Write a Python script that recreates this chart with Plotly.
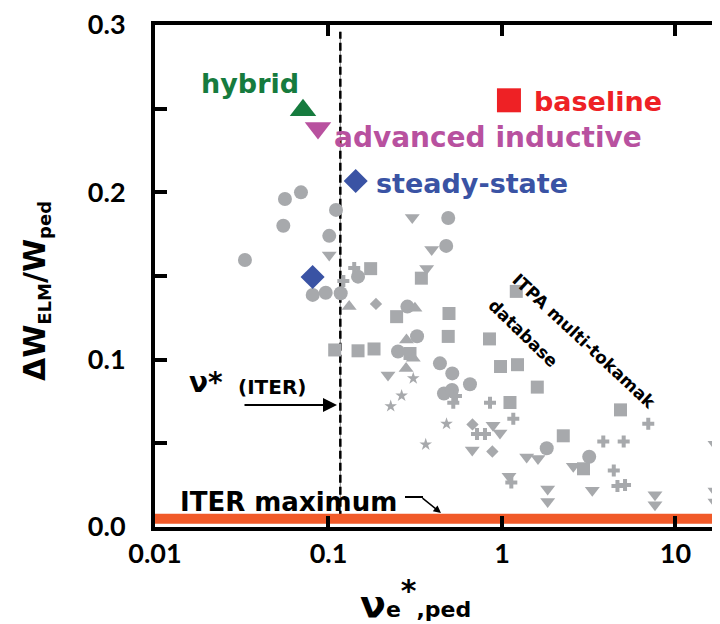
import plotly.graph_objects as go

# ---------------- data ----------------
# ITPA multi-tokamak database (grey), grouped by symbol
db_circle_x = [0.0561, 0.0694, 0.1105, 0.0549, 0.101, 0.033, 0.148, 0.0811, 0.0964, 0.1176,
               0.49, 0.477, 0.285, 0.324, 0.2516, 0.439, 0.517, 0.654, 0.463, 0.515, 1.811, 3.182]
db_circle_y = [0.196, 0.200, 0.1895, 0.180, 0.174, 0.1596, 0.1496, 0.1387, 0.140, 0.1397,
               0.1847, 0.168, 0.1317, 0.114, 0.1049, 0.0978, 0.0918, 0.0853, 0.0798, 0.0819, 0.0471, 0.042]

db_tridown_x = [0.101, 0.304, 0.3935, 0.368, 0.2203, 0.888, 0.974, 0.674, 1.388, 1.613,
                2.577, 1.098, 1.834, 1.834, 3.316, 7.62, 7.62, 16.9, 16.9, 16.9]
db_tridown_y = [0.1626, 0.185, 0.1659, 0.1545, 0.0909, 0.0608, 0.0562, 0.046, 0.0418, 0.0409,
                0.0363, 0.0303, 0.0227, 0.0152, 0.022, 0.0192, 0.0133, 0.0494, 0.0215, 0.0149]

db_triup_x = [0.1316, 0.315, 0.2816, 0.308, 0.280]
db_triup_y = [0.1317, 0.1307, 0.1118, 0.1008, 0.0947]

db_square_x = [0.175, 0.343, 0.247, 0.495, 1.209, 0.1086, 0.148, 0.183, 0.295, 0.490,
               0.847, 0.981, 1.229, 1.598, 1.112, 2.256, 4.82, 2.95]
db_square_y = [0.1544, 0.1487, 0.1257, 0.1276, 0.1408, 0.1058, 0.1053, 0.1064, 0.1037, 0.1139,
               0.1124, 0.0959, 0.097, 0.0836, 0.0744, 0.0545, 0.070, 0.0348]

db_cross_x = [0.1407, 0.1218, 0.524, 0.853, 1.162, 0.718, 0.798, 1.132, 3.837, 5.03,
              4.41, 4.63, 5.12, 6.97, 0.543]
db_cross_y = [0.1548, 0.147, 0.0742, 0.0743, 0.0647, 0.0556, 0.0556, 0.0266, 0.0511, 0.0511,
              0.0337, 0.0245, 0.0251, 0.0617, 0.0783]

db_star_x = [0.308, 0.264, 0.2284, 0.479, 0.3634]
db_star_y = [0.0888, 0.0785, 0.0722, 0.0616, 0.0493]

db_diamond_x = [0.1878, 0.676, 0.88]
db_diamond_y = [0.1333, 0.0613, 0.0451]

# DIII-D scenarios
hybrid_x, hybrid_y = [0.0713], [0.249]
adv_ind_x, adv_ind_y = [0.087], [0.2385]
steady_x, steady_y = [0.1435, 0.081], [0.2068, 0.1494]
baseline_x, baseline_y = [1.097], [0.255]

# reference values
NU_ITER = 0.117          # ITER pedestal collisionality
ITER_MAX = 0.005         # ITER maximum tolerable dW_ELM/W_ped
X_RANGE = [0.01, 18.06]
Y_RANGE = [0.0, 0.3]

y_tickvals = [0.0, 0.05, 0.1, 0.15, 0.2, 0.25, 0.3]
y_ticktext = ["0.0", "", "0.1", "", "0.2", "", "0.3"]
x_tickvals = [0.01, 0.1, 1, 10]
x_ticktext = ["0.01", "0.1", "1", "10"]

# ---------------- styling ----------------
GREY = "#A7A9AC"
GREEN = "#167B3E"
MAGENTA = "#B8519F"
BLUE = "#3A53A4"
RED = "#EE2125"
ORANGE = "#F15A29"
TICKFONT = "Lato"
FONT = "DejaVu Sans"

fig = go.Figure()

# reference lines
fig.add_trace(go.Scatter(x=[NU_ITER, NU_ITER], y=[ITER_MAX, 0.296], mode="lines",
                         line=dict(color="#888888", width=1), hoverinfo="skip", showlegend=False))
fig.add_trace(go.Scatter(x=[NU_ITER, NU_ITER], y=[ITER_MAX, 0.296], mode="lines",
                         line=dict(color="black", width=2.5, dash="8px,4px"),
                         hoverinfo="skip", showlegend=False))
fig.add_trace(go.Scatter(x=X_RANGE, y=[ITER_MAX, ITER_MAX], mode="lines",
                         line=dict(color=ORANGE, width=10), hoverinfo="skip", showlegend=False))

def grey(xs, ys, symbol, size):
    fig.add_trace(go.Scatter(x=xs, y=ys, mode="markers", showlegend=False,
                             marker=dict(symbol=symbol, size=size, color=GREY,
                                         line=dict(width=0))))

grey(db_circle_x, db_circle_y, "circle", 14)
grey(db_square_x, db_square_y, "square", 13)
grey(db_tridown_x, db_tridown_y, "triangle-down", 13)
grey(db_triup_x, db_triup_y, "triangle-up", 13)
grey(db_cross_x, db_cross_y, "cross", 10)
grey(db_star_x, db_star_y, "star", 9.5)
grey(db_diamond_x, db_diamond_y, "diamond", 9.5)

def big(xs, ys, symbol, size, color):
    fig.add_trace(go.Scatter(x=xs, y=ys, mode="markers", showlegend=False,
                             marker=dict(symbol=symbol, size=size, color=color,
                                         line=dict(width=0))))

big(hybrid_x, hybrid_y, "triangle-up", 23, GREEN)
big(adv_ind_x, adv_ind_y, "triangle-down", 23, MAGENTA)
big(steady_x, steady_y, "diamond", 18.5, BLUE)
big(baseline_x, baseline_y, "square", 24, RED)

# invisible trace to activate right-hand tick axis
fig.add_trace(go.Scatter(x=[], y=[], yaxis="y2", showlegend=False))

# page coordinates -> paper coordinates (plot area spans 155..720 x 25..527 on the page)
def px_x(px):
    return (px - 155) / 565.0

def px_y(py):
    return (527 - py) / 502.0

ann = []
def label(text, x, y, size, color="black", xanchor="center", angle=0, family=FONT, weight="bold"):
    ann.append(dict(text=text, x=px_x(x), y=px_y(y), xref="paper", yref="paper",
                    xanchor=xanchor, yanchor="middle", showarrow=False, textangle=angle,
                    font=dict(family=family, size=size, color=color, weight=weight)))

label("hybrid", 250, 83, 27, GREEN)
label("advanced inductive", 332, 137, 28, MAGENTA, xanchor="left")
label("steady-state", 374, 183, 27, BLUE, xanchor="left")
label("baseline", 532, 102, 27, RED, xanchor="left")
label("ITPA multi-tokamak", 584, 341, 17, angle=43)
label("database", 523, 333, 17, angle=44)
label("ν*", 187, 382, 28, xanchor="left")
label("(ITER)", 236, 387, 20, xanchor="left")
label("ITER maximum", 178, 502, 26, xanchor="left")

# axis titles
label('ΔW<sub><span style="font-size:18px">ELM</span></sub>/W<sub><span style="font-size:18px">ped</span></sub>',
      36, 291, 30, angle=-90)
label('ν<span style="font-size:22px">e</span><sup><span style="font-size:30px">*</span></sup>'
      '<span style="font-size:22px">,ped</span>', 358, 599, 38, xanchor="left")

# arrow to nu* line
ann.append(dict(x=px_x(337), y=px_y(405), xref="paper", yref="paper", text="",
                showarrow=True, ax=-94, ay=0, arrowhead=2, arrowsize=1.4, arrowwidth=2,
                arrowcolor="black"))
# bent arrow to ITER maximum
ann.append(dict(x=px_x(441), y=px_y(513), xref="paper", yref="paper", text="",
                showarrow=True, ax=-20, ay=-16, arrowhead=2, arrowsize=1, arrowwidth=1.5,
                arrowcolor="black"))

fig.update_layout(
    width=712, height=616,
    margin=dict(l=147, r=0, t=17, b=97),
    plot_bgcolor="white", paper_bgcolor="white",
    annotations=ann,
    shapes=[dict(type="line", xref="paper", yref="paper",
                 x0=px_x(405), x1=px_x(423), y0=px_y(497), y1=px_y(497),
                 line=dict(color="black", width=2))],
    xaxis=dict(type="log", range=[-2, 1.2567], showgrid=False, zeroline=False,
               showline=True, linecolor="black", linewidth=4, mirror="ticks",
               ticks="inside", ticklen=11, tickwidth=4, tickcolor="black",
               tickvals=x_tickvals, ticktext=x_ticktext, ticklabeloverflow="allow",
               tickfont=dict(family=TICKFONT, size=27, color="black", weight="bold")),
    yaxis=dict(range=Y_RANGE, showgrid=False, zeroline=False,
               showline=True, linecolor="black", linewidth=4,
               ticks="inside", ticklen=12, tickwidth=4, tickcolor="black",
               tickvals=y_tickvals, ticktext=y_ticktext, ticklabelstandoff=20,
               ticklabeloverflow="allow",
               tickfont=dict(family=TICKFONT, size=27, color="black", weight="bold")),
    yaxis2=dict(overlaying="y", side="right", range=Y_RANGE, showgrid=False, zeroline=False,
                showline=False, ticks="inside", ticklen=5, tickwidth=4, tickcolor="black",
                tickvals=y_tickvals, showticklabels=False),
)

fig.write_html("out.html")
